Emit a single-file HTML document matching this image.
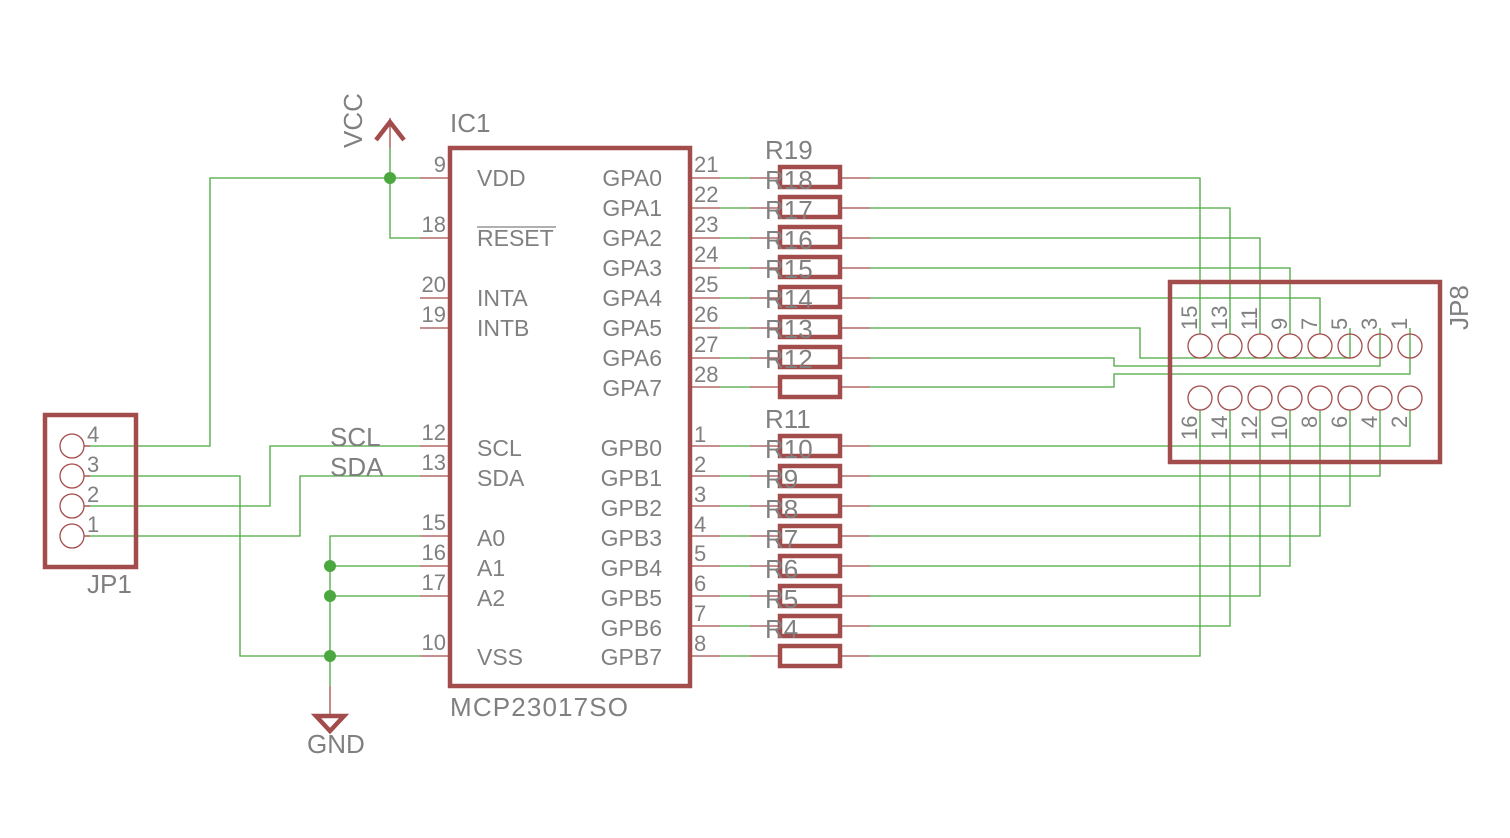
<!DOCTYPE html>
<html><head><meta charset="utf-8"><style>html,body{margin:0;padding:0;background:#fff}svg{display:block}text{font-family:"Liberation Sans",sans-serif;fill:#808080}</style></head><body>
<svg width="1510" height="838" viewBox="0 0 1510 838" xmlns="http://www.w3.org/2000/svg">
<g stroke="#4aa83e" stroke-width="1.3" fill="none">
<polyline points="420,178 210,178 210,446 85,446"/>
<polyline points="390,148 390,238 420,238"/>
<polyline points="85,476 240,476 240,656 420,656"/>
<polyline points="85,506 270,506 270,446 420,446"/>
<polyline points="85,536 300,536 300,476 420,476"/>
<polyline points="420,536 330,536 330,686"/>
<line x1="330" y1="566" x2="420" y2="566"/>
<line x1="330" y1="596" x2="420" y2="596"/>
<g>
<line x1="720" y1="178" x2="750" y2="178"/><line x1="720" y1="208" x2="750" y2="208"/><line x1="720" y1="238" x2="750" y2="238"/><line x1="720" y1="268" x2="750" y2="268"/><line x1="720" y1="298" x2="750" y2="298"/><line x1="720" y1="328" x2="750" y2="328"/><line x1="720" y1="358" x2="750" y2="358"/><line x1="720" y1="387" x2="750" y2="387"/>
<line x1="720" y1="446" x2="750" y2="446"/><line x1="720" y1="476" x2="750" y2="476"/><line x1="720" y1="506" x2="750" y2="506"/><line x1="720" y1="536" x2="750" y2="536"/><line x1="720" y1="566" x2="750" y2="566"/><line x1="720" y1="596" x2="750" y2="596"/><line x1="720" y1="626" x2="750" y2="626"/><line x1="720" y1="656" x2="750" y2="656"/>
</g>
<polyline points="870,178 1200,178 1200,334"/>
<polyline points="870,208 1230,208 1230,334"/>
<polyline points="870,238 1260,238 1260,334"/>
<polyline points="870,268 1290,268 1290,334"/>
<polyline points="870,298 1320,298 1320,334"/>
<polyline points="870,328 1140,328 1140,358 1350,358 1350,328"/>
<polyline points="870,358 1114,358 1114,366 1380,366 1380,328"/>
<polyline points="870,387 1114,387 1114,374 1410,374 1410,328"/>
<polyline points="870,446 1410,446 1410,410"/>
<polyline points="870,476 1380,476 1380,410"/>
<polyline points="870,506 1350,506 1350,410"/>
<polyline points="870,536 1320,536 1320,410"/>
<polyline points="870,566 1290,566 1290,410"/>
<polyline points="870,596 1260,596 1260,410"/>
<polyline points="870,626 1230,626 1230,410"/>
<polyline points="870,656 1200,656 1200,410"/>
</g>
<g fill="#4aa83e">
<circle cx="390" cy="178" r="6"/><circle cx="330" cy="566" r="6"/><circle cx="330" cy="596" r="6"/><circle cx="330" cy="656" r="6"/>
</g>
<g stroke="#a34c4c" stroke-width="1.3" fill="none">
<line x1="420" y1="178" x2="450" y2="178"/><line x1="420" y1="238" x2="450" y2="238"/><line x1="420" y1="298" x2="450" y2="298"/><line x1="420" y1="328" x2="450" y2="328"/><line x1="420" y1="446" x2="450" y2="446"/><line x1="420" y1="476" x2="450" y2="476"/><line x1="420" y1="536" x2="450" y2="536"/><line x1="420" y1="566" x2="450" y2="566"/><line x1="420" y1="596" x2="450" y2="596"/><line x1="420" y1="656" x2="450" y2="656"/>
<line x1="390" y1="118" x2="390" y2="148"/>
<line x1="330" y1="686" x2="330" y2="716"/>
<path d="M690 178H720M750 178H780M840 178H870M690 208H720M750 208H780M840 208H870M690 238H720M750 238H780M840 238H870M690 268H720M750 268H780M840 268H870M690 298H720M750 298H780M840 298H870M690 328H720M750 328H780M840 328H870M690 358H720M750 358H780M840 358H870M690 387H720M750 387H780M840 387H870"/>
<path d="M690 446H720M750 446H780M840 446H870M690 476H720M750 476H780M840 476H870M690 506H720M750 506H780M840 506H870M690 536H720M750 536H780M840 536H870M690 566H720M750 566H780M840 566H870M690 596H720M750 596H780M840 596H870M690 626H720M750 626H780M840 626H870M690 656H720M750 656H780M840 656H870"/>
<circle cx="72" cy="446" r="12"/><circle cx="72" cy="476" r="12"/><circle cx="72" cy="506" r="12"/><circle cx="72" cy="536" r="12"/>
<path d="M84 446H90M84 476H90M84 506H90M84 536H90"/>
<circle cx="1200" cy="346" r="12"/><circle cx="1230" cy="346" r="12"/><circle cx="1260" cy="346" r="12"/><circle cx="1290" cy="346" r="12"/><circle cx="1320" cy="346" r="12"/><circle cx="1350" cy="346" r="12"/><circle cx="1380" cy="346" r="12"/><circle cx="1410" cy="346" r="12"/>
<circle cx="1200" cy="398" r="12"/><circle cx="1230" cy="398" r="12"/><circle cx="1260" cy="398" r="12"/><circle cx="1290" cy="398" r="12"/><circle cx="1320" cy="398" r="12"/><circle cx="1350" cy="398" r="12"/><circle cx="1380" cy="398" r="12"/><circle cx="1410" cy="398" r="12"/>
</g>
<g stroke="#a34c4c" stroke-width="4.5" fill="none">
<rect x="450" y="148" width="240" height="538"/>
<rect x="45" y="415" width="91" height="152"/>
<rect x="1170" y="282" width="270" height="180"/>
<polyline points="376,140 390,122 404,140"/>
<polygon points="316,716 344,716 330,731"/>
<g>
<rect x="780" y="167" width="60" height="20"/><rect x="780" y="197" width="60" height="20"/><rect x="780" y="227" width="60" height="20"/><rect x="780" y="257" width="60" height="20"/><rect x="780" y="287" width="60" height="20"/><rect x="780" y="317" width="60" height="20"/><rect x="780" y="347" width="60" height="20"/><rect x="780" y="377" width="60" height="20"/>
<rect x="780" y="436" width="60" height="20"/><rect x="780" y="466" width="60" height="20"/><rect x="780" y="496" width="60" height="20"/><rect x="780" y="526" width="60" height="20"/><rect x="780" y="556" width="60" height="20"/><rect x="780" y="586" width="60" height="20"/><rect x="780" y="616" width="60" height="20"/><rect x="780" y="646" width="60" height="20"/>
</g>
</g>
<g font-size="23">
<text x="450" y="132" font-size="26">IC1</text>
<text x="450" y="716" font-size="26" textLength="178">MCP23017SO</text>
<text x="307" y="753" font-size="26">GND</text>
<text x="87" y="593" font-size="26">JP1</text>
<text transform="translate(362,148) rotate(-90)" font-size="26">VCC</text>
<text transform="translate(1468,330) rotate(-90)" font-size="26">JP8</text>
<text x="330" y="446" font-size="26">SCL</text>
<text x="330" y="476" font-size="26">SDA</text>
<text x="477" y="186">VDD</text><text x="477" y="246">RESET</text>
<line x1="477" y1="227" x2="556" y2="227" stroke="#808080" stroke-width="1.2"/>
<text x="477" y="306">INTA</text><text x="477" y="336">INTB</text>
<text x="477" y="456">SCL</text><text x="477" y="486">SDA</text>
<text x="477" y="546">A0</text><text x="477" y="576">A1</text><text x="477" y="606">A2</text><text x="477" y="665">VSS</text>
<g text-anchor="end">
<text x="662" y="186">GPA0</text><text x="662" y="216">GPA1</text><text x="662" y="246">GPA2</text><text x="662" y="276">GPA3</text><text x="662" y="306">GPA4</text><text x="662" y="336">GPA5</text><text x="662" y="366">GPA6</text><text x="662" y="396">GPA7</text>
<text x="662" y="456">GPB0</text><text x="662" y="486">GPB1</text><text x="662" y="516">GPB2</text><text x="662" y="546">GPB3</text><text x="662" y="576">GPB4</text><text x="662" y="606">GPB5</text><text x="662" y="636">GPB6</text><text x="662" y="665">GPB7</text>
</g>
<g font-size="22" text-anchor="end">
<text x="446" y="172">9</text><text x="446" y="232">18</text><text x="446" y="292">20</text><text x="446" y="322">19</text><text x="446" y="440">12</text><text x="446" y="470">13</text><text x="446" y="530">15</text><text x="446" y="560">16</text><text x="446" y="590">17</text><text x="446" y="650">10</text>
</g>
<g font-size="22">
<text x="694" y="172">21</text><text x="694" y="202">22</text><text x="694" y="232">23</text><text x="694" y="262">24</text><text x="694" y="292">25</text><text x="694" y="322">26</text><text x="694" y="352">27</text><text x="694" y="382">28</text>
<text x="694" y="442">1</text><text x="694" y="472">2</text><text x="694" y="502">3</text><text x="694" y="532">4</text><text x="694" y="561">5</text><text x="694" y="591">6</text><text x="694" y="621">7</text><text x="694" y="651">8</text>
<text x="87" y="442">4</text><text x="87" y="472">3</text><text x="87" y="502">2</text><text x="87" y="532">1</text>
</g>
<g font-size="26">
<text x="765" y="159">R19</text><text x="765" y="189">R18</text><text x="765" y="219">R17</text><text x="765" y="249">R16</text><text x="765" y="278">R15</text><text x="765" y="308">R14</text><text x="765" y="338">R13</text><text x="765" y="368">R12</text>
<text x="765" y="428">R11</text><text x="765" y="458">R10</text><text x="765" y="488">R9</text><text x="765" y="518">R8</text><text x="765" y="548">R7</text><text x="765" y="578">R6</text><text x="765" y="608">R5</text><text x="765" y="638">R4</text>
</g>
<g font-size="22">
<text transform="translate(1197,330) rotate(-90)">15</text><text transform="translate(1227,330) rotate(-90)">13</text><text transform="translate(1257,330) rotate(-90)">11</text><text transform="translate(1287,330) rotate(-90)">9</text><text transform="translate(1317,330) rotate(-90)">7</text><text transform="translate(1347,330) rotate(-90)">5</text><text transform="translate(1377,330) rotate(-90)">3</text><text transform="translate(1407,330) rotate(-90)">1</text>
<text transform="translate(1197,440) rotate(-90)">16</text><text transform="translate(1227,440) rotate(-90)">14</text><text transform="translate(1257,440) rotate(-90)">12</text><text transform="translate(1287,440) rotate(-90)">10</text><text transform="translate(1317,428) rotate(-90)">8</text><text transform="translate(1347,428) rotate(-90)">6</text><text transform="translate(1377,428) rotate(-90)">4</text><text transform="translate(1407,428) rotate(-90)">2</text>
</g>
</g>
</svg>
</body></html>
